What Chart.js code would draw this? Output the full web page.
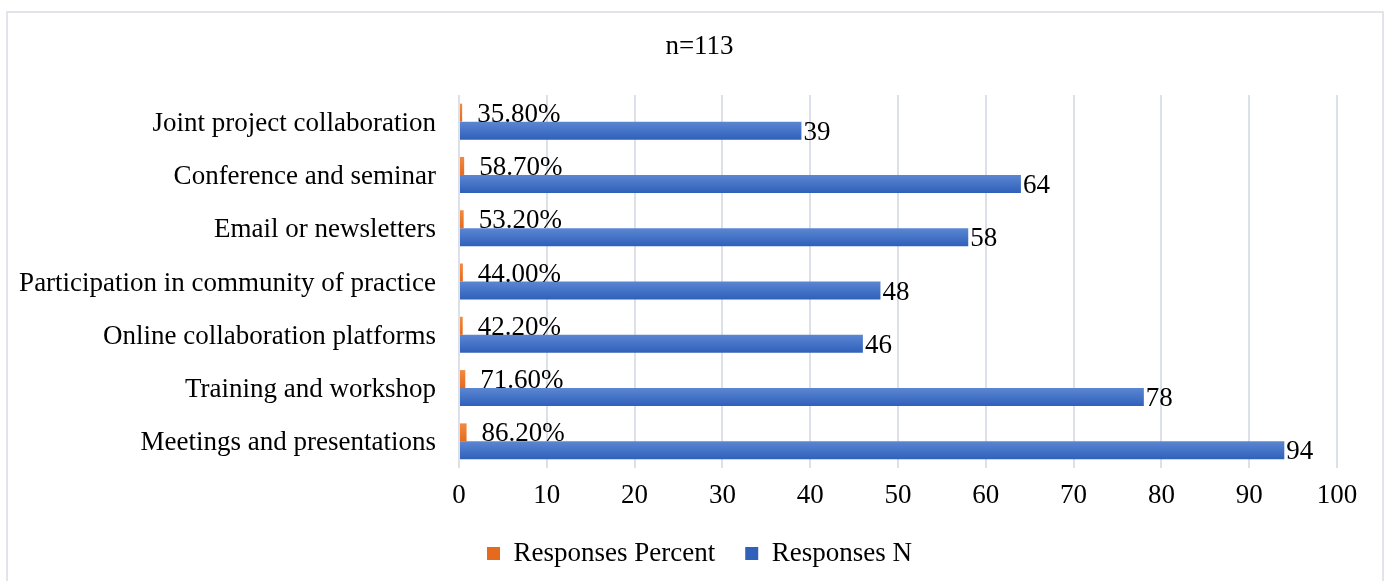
<!DOCTYPE html>
<html>
<head>
<meta charset="utf-8">
<title>Responses</title>
<script src="https://cdn.jsdelivr.net/npm/chart.js@4.4.1/dist/chart.umd.min.js"></script>
<style>
  html, body { margin: 0; padding: 0; background: #fff; }
  #wrap { position: relative; width: 1399px; height: 581px; overflow: hidden; }
  #frame {
    position: absolute; left: 6px; top: 11px; width: 1378px; height: 600px;
    border: 2px solid #e1e5ea; box-sizing: border-box;
  }
  #responsesChart { position: absolute; left: 0; top: 0; }
</style>
</head>
<body>
<div id="wrap">
  <div id="frame"></div>
  <canvas id="responsesChart" width="1399" height="581"></canvas>
</div>
<script>
//Categories, listed top to bottom
const categories = [
  "Joint project collaboration",
  "Conference and seminar",
  "Email or newsletters",
  "Participation in community of practice",
  "Online collaboration platforms",
  "Training and workshop",
  "Meetings and presentations"
];

//Share of respondents (fraction) and number of respondents
const responsesPercent = [0.358, 0.587, 0.532, 0.44, 0.422, 0.716, 0.862];
const responsesN = [39, 64, 58, 48, 46, 78, 94];

const xTicks = [0, 10, 20, 30, 40, 50, 60, 70, 80, 90, 100];

const FONT = "'Liberation Serif', 'Times New Roman', serif";
const SIZE = 27;
const ORANGE = "#ED7D31";
const BLUE = "#4472C4";
const CAT_PCT = 0.675;

//Vertical gradient for one bar, worked out from the category scale
function barGradient(context, slot, light, dark, solid){

    const chart = context.chart;
    const yScale = chart.scales.y;

    if(context.dataIndex === undefined || !yScale || !chart.chartArea){
        return solid;
    }

    const band = (yScale.bottom - yScale.top) / categories.length;
    const thick = band * CAT_PCT / 2;
    const center = yScale.getPixelForValue(context.dataIndex);
    const top = center - thick + slot * thick;

    const g = chart.ctx.createLinearGradient(0, top, 0, top + thick);
    g.addColorStop(0, light);
    g.addColorStop(1, dark);
    return g;

}

//Value labels written next to each bar
const barLabels = {

    id: "barLabels",

    afterDatasetsDraw(chart){

        const ctx = chart.ctx;
        ctx.save();
        ctx.font = SIZE + "px " + FONT;
        ctx.fillStyle = "#000";
        ctx.textBaseline = "middle";
        ctx.textAlign = "left";

        chart.data.datasets.forEach(function(ds, i){

            chart.getDatasetMeta(i).data.forEach(function(bar, j){

                const value = ds.data[j];
                const text = i === 0
                    ? (value * 100).toFixed(2) + "%"
                    : String(value);
                const gap = i === 0 ? 15 : 2;

                ctx.fillText(text, bar.x + gap, bar.y + 2);

            });

        });

        ctx.restore();

    }

};

const chartCanvas = document.querySelector("#responsesChart");

new Chart(chartCanvas, {

    type: "bar",

    data: {

        labels: categories,

        datasets: [
            {
                label: "Responses Percent",
                data: responsesPercent,
                backgroundColor: function(context){
                    return barGradient(context, 0, "#F28A40", "#E56A1E", ORANGE);
                },
                barPercentage: 1,
                categoryPercentage: CAT_PCT
            },
            {
                label: "Responses N",
                data: responsesN,
                backgroundColor: function(context){
                    return barGradient(context, 1, "#5B86D2", "#2F60BA", BLUE);
                },
                barPercentage: 1,
                categoryPercentage: CAT_PCT
            }
        ]

    },

    options: {

        indexAxis: "y",
        responsive: false,
        animation: false,

        layout: {
            padding: { top: 0, left: 0, right: 0, bottom: 4 }
        },

        scales: {

            x: {
                min: 0,
                max: 100,
                afterBuildTicks: function(scale){
                    scale.ticks = xTicks.map(function(v){ return { value: v }; });
                },
                afterFit: function(scale){
                    scale.height = 42;
                    scale.paddingRight = 62;
                },
                grid: {
                    color: "#dce0e8",
                    lineWidth: 2,
                    drawTicks: false
                },
                border: { display: false },
                ticks: {
                    padding: 12,
                    color: "#000",
                    font: { family: FONT, size: SIZE }
                }
            },

            y: {
                afterFit: function(scale){
                    scale.width = 459;
                },
                grid: { display: false, drawTicks: false },
                border: { display: false },
                ticks: {
                    padding: 23,
                    labelOffset: 2,
                    color: "#000",
                    font: { family: FONT, size: SIZE }
                }
            }

        },

        plugins: {

            title: {
                display: true,
                text: "n=113",
                color: "#000",
                font: { family: FONT, size: SIZE, weight: "normal" },
                padding: { top: 31, bottom: 31.6 }
            },

            legend: {
                position: "bottom",
                labels: {
                    color: "#000",
                    boxWidth: 13,
                    boxHeight: 13,
                    padding: 30,
                    font: { family: FONT, size: SIZE }
                }
            },

            tooltip: { enabled: false }

        }

    },

    plugins: [barLabels]

});
</script>
</body>
</html>
